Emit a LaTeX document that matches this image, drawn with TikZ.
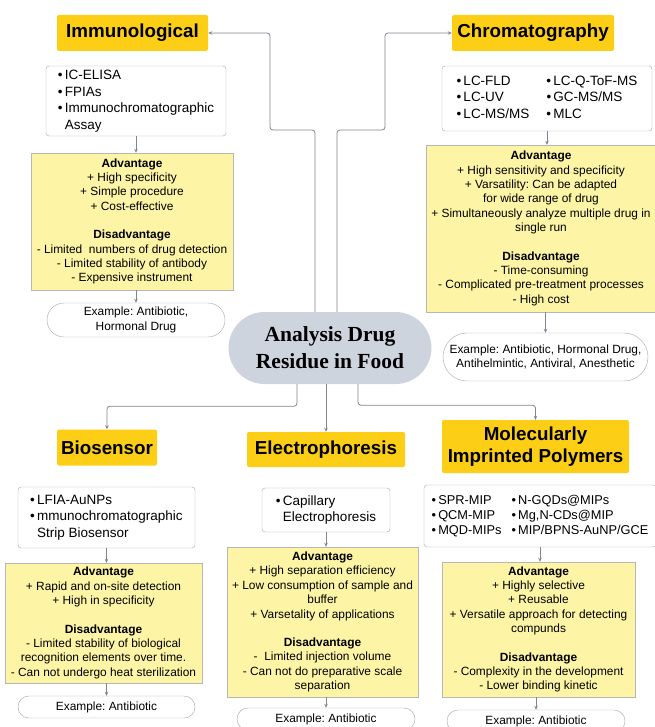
\documentclass[tikz,border=0pt]{standalone}
\usepackage{fontspec}
\setmainfont{Liberation Sans}
\newfontfamily\ctrfont{Liberation Serif}
\usepackage{tikz}
\usetikzlibrary{calc}
\usetikzlibrary{arrows.meta}
\usetikzlibrary{shapes.misc}
\usepackage{xcolor}
\definecolor{titlegold}{RGB}{252,207,22}
\definecolor{proyellow}{RGB}{253,245,165}
\definecolor{boxgray}{RGB}{165,165,165}
\definecolor{ctrgray}{RGB}{206,212,222}
\definecolor{conngray}{RGB}{128,133,143}
\newcommand{\bul}{\textbullet\,}
\frenchspacing

\tikzset{
  methodbox/.style={fill=titlegold, rounded corners=2pt, align=center, inner sep=0pt,
    font=\fontsize{18.8}{22}\selectfont\bfseries},
  listbox/.style={draw=boxgray, fill=white, rounded corners=3pt, inner sep=0pt,
    font=\fontsize{13.5}{16.5}\selectfont},
  probox/.style={draw=boxgray!80, fill=proyellow, align=center, inner sep=0pt,
    font=\fontsize{11.9}{14.4}\selectfont},
  expill/.style={draw=boxgray, fill=white, rounded rectangle, align=center, inner sep=0pt,
    font=\fontsize{11.9}{14.4}\selectfont},
  ctrbox/.style={fill=ctrgray, rounded rectangle, align=center, inner sep=0pt,
    font=\ctrfont\bfseries\fontsize{21.5}{27}\selectfont},
  conn/.style={draw=conngray, line width=0.8pt, rounded corners=3pt,
    -{Stealth[length=4pt,width=3.5pt]}}
}

\begin{document}
\begin{tikzpicture}[x=1pt,y=-1pt]
  \useasboundingbox (0,0) rectangle (654,727);

  \node[ctrbox, minimum width=203, minimum height=72] (ctr) at (330,348) {Analysis Drug\\ Residue in Food};

  % top left
  \node[methodbox, minimum width=151, minimum height=36] (immt) at (132.5,33) {Immunological};
  \node[listbox, minimum width=180, minimum height=70] (imml) at (136,101)
    {\begin{tabular}{@{}l@{}}\bul IC-ELISA\\ \bul FPIAs\\ \bul Immunochromatographic\\ \hphantom{\bul}Assay\end{tabular}};
  \node[probox, minimum width=202, minimum height=137] (imma) at (132,221.5)
    {\textbf{Advantage}\\ + High specificity\\ + Simple procedure\\ + Cost-effective\\[14pt]
     \textbf{Disadvantage}\\ - Limited~ numbers of drug detection\\ - Limited stability of antibody\\ - Expensive instrument};
  \node[expill, minimum width=178, minimum height=34] (imme) at (136,320) {Example: Antibiotic,\\ Hormonal Drug};

  % top right
  \node[methodbox, minimum width=162, minimum height=36] (chrt) at (533,33) {Chromatography};
  \node[listbox, minimum width=210, minimum height=65] (chrl) at (547,98.5)
    {\begin{tabular}{@{}l@{\hspace{17pt}}l@{}}\bul LC-FLD & \bul LC-Q-ToF-MS\\ \bul LC-UV & \bul GC-MS/MS\\ \bul LC-MS/MS & \bul MLC\end{tabular}};
  \node[probox, minimum width=230, minimum height=167] (chra) at (541,228.5)
    {\textbf{Advantage}\\ + High sensitivity and specificity\\ + Varsatility: Can be adapted\\ for wide range of drug\\
     \makebox[0pt]{+ Simultaneously analyze multiple drug in}\\ single run\\[14pt]
     \textbf{Disadvantage}\\ - Time-consuming\\ - Complicated pre-treatment processes\\ - High cost};
  \node[expill, minimum width=205, minimum height=48] (chre) at (545.5,357)
    {Example: Antibiotic, Hormonal Drug,\\ Antihelmintic, Antiviral, Anesthetic};

  % bottom
  \node[methodbox, minimum width=100, minimum height=36] (biot) at (107,447.5) {Biosensor};
  \node[listbox, minimum width=177, minimum height=61] (biol) at (106.5,517.5)
    {\begin{tabular}{@{}l@{}}\bul LFIA-AuNPs\\ \bul mmunochromatographic\\ \hphantom{\bul}Strip Biosensor\end{tabular}};
  \node[probox, minimum width=197, minimum height=120] (bioa) at (103.5,623)
    {\textbf{Advantage}\\ + Rapid and on-site detection\\ + High in specificity\\[14pt]
     \textbf{Disadvantage}\\ - Limited stability of biological\\ recognition elements over time.\\ - Can not undergo heat sterilization};
  \node[expill, minimum width=177, minimum height=22] (bioe) at (106.5,707) {Example: Antibiotic};

  \node[methodbox, minimum width=158, minimum height=35] (elet) at (326,449.5) {Electrophoresis};
  \node[listbox, minimum width=128, minimum height=44] (elel) at (326,510)
    {\begin{tabular}{@{}l@{}}\bul Capillary\\ \hphantom{\bul}Electrophoresis\end{tabular}};
  \node[probox, minimum width=191, minimum height=150] (elea) at (322.5,622)
    {\textbf{Advantage}\\ + High separation efficiency\\ + Low consumption of sample and\\ buffer\\ + Varsetality of applications\\[14pt]
     \textbf{Disadvantage}\\ -~ Limited injection volume\\ - Can not do preparative scale\\ separation};
  \node[expill, minimum width=178, minimum height=22] (elee) at (326,719) {Example: Antibiotic};

  \node[methodbox, minimum width=187, minimum height=53] (mipt) at (535.5,446.5) {Molecularly\\ Imprinted Polymers};
  \node[listbox, minimum width=232, minimum height=62] (mipl) at (540,516)
    {\fontsize{12.8}{15}\selectfont\begin{tabular}{@{}l@{\hspace{10pt}}l@{}}\bul SPR-MIP & \bul N-GQDs@MIPs\\ \bul QCM-MIP & \bul Mg,N-CDs@MIP\\ \bul MQD-MIPs & \bul MIP/BPNS-AuNP/GCE\end{tabular}};
  \node[probox, minimum width=193, minimum height=135] (mipa) at (538.5,629.5)
    {\textbf{Advantage}\\ + Highly selective\\ + Reusable\\ + Versatile approach for detecting\\ compunds\\[14pt]
     \textbf{Disadvantage}\\ - Complexity in the development\\ - Lower binding kinetic};
  \node[expill, minimum width=178, minimum height=22] (mipe) at (536,721) {Example: Antibiotic};

  \draw[conn] ($(ctr.north)+(-15,0)$) |- (270,130) |- (immt.east);
  \draw[conn] ($(ctr.north)+(7,0)$) |- (385,130) |- (chrt.west);
  \draw[conn] ($(ctr.south)+(-33,0)$) -- ++(0,22) -| (biot.north);
  \draw[conn] ($(ctr.south)+(-4,0)$) -- (elet.north);
  \draw[conn] ($(ctr.south)+(28,0)$) -- ++(0,21) -| (mipt.north);

  \foreach \g in {imm,chr,bio,ele,mip}{
    \draw[conn] (\g l.south) -- (\g l.south |- \g a.north);
    \draw[conn] (\g e.north |- \g a.south) -- (\g e.north);
  }
\end{tikzpicture}
\end{document}
